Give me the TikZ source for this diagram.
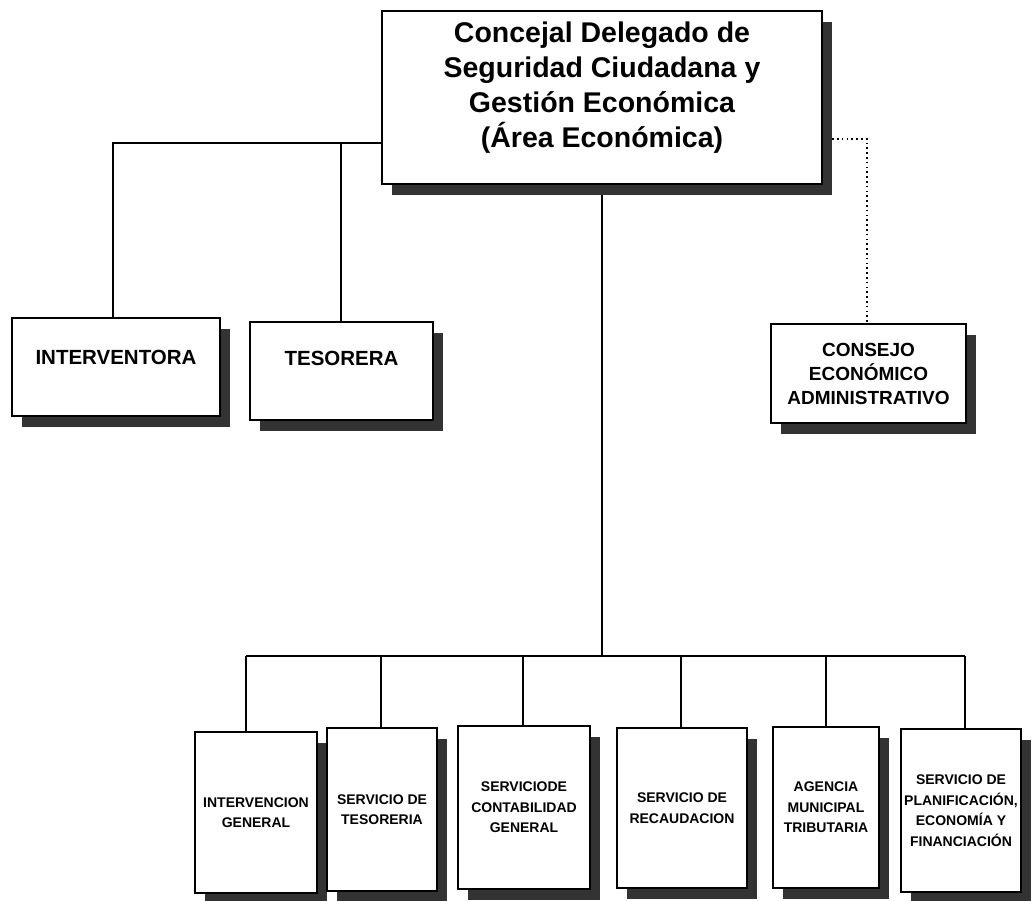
\documentclass[tikz,border=0pt]{standalone}
\usepackage{fontspec}
\setmainfont{Liberation Sans}
\usetikzlibrary{shadows,backgrounds}
\newcommand{\letra}[2]{\fontsize{#1pt}{#2pt}\selectfont\bfseries}
\tikzset{
  cargo/.style={draw,line width=1.2pt,fill=white,align=center,inner sep=2pt,
    drop shadow={shadow xshift=10pt,shadow yshift=-11pt,fill=black!80,opacity=1}},
  servicio/.style={cargo,font=\letra{14}{20.5}},
  enlace/.style={line width=1.6pt},
  punteado/.style={line width=1.6pt,dash pattern=on 1.6pt off 3.2pt}
}

\begin{document}
\begin{tikzpicture}[x=1pt,y=-1pt]
  \useasboundingbox (0,0) rectangle (1032,900);
  \begin{scope}[on background layer]
    \fill[white] (0,0) rectangle (1032,900);
  \end{scope}

  \node[cargo,minimum width=440pt,minimum height=173pt,text depth=26pt,
    font=\letra{28.5}{35}] (concejal) at (602,97.5)
    {Concejal Delegado de\\Seguridad Ciudadana y\\Gestión Económica\\(Área Económica)};
  \node[cargo,minimum width=208pt,minimum height=98pt,text depth=20pt,
    font=\letra{20.5}{24}] (interv) at (116,367) {INTERVENTORA};
  \node[cargo,minimum width=183pt,minimum height=98pt,text depth=26pt,
    font=\letra{20.5}{24}] (teso) at (341.5,371) {TESORERA};
  \node[cargo,minimum width=195pt,minimum height=99pt,
    font=\letra{19}{24}] (consejo) at (868.5,373.5)
    {CONSEJO\\ECONÓMICO\\ADMINISTRATIVO};

  \foreach \nm/\cx/\cy/\w/\h/\txt in {
      sintg/256/812.5/122/161/{INTERVENCION\\GENERAL},
      stes/382/809.5/110/163/{SERVICIO DE\\TESORERIA},
      scont/524/807.5/132/163/{SERVICIODE\\CONTABILIDAD\\GENERAL},
      srec/682/808/130/160/{SERVICIO DE\\RECAUDACION},
      amt/826/807.5/106/161/{AGENCIA\\MUNICIPAL\\TRIBUTARIA},
      splan/961/810.5/120/163/{SERVICIO DE\\PLANIFICACIÓN,\\ECONOMÍA Y\\FINANCIACIÓN}}
    \node[servicio,minimum width=\w pt,minimum height=\h pt] (\nm) at (\cx,\cy) {\txt};

  \coordinate (ramal) at (113,143);
  \coordinate (ramalb) at (341,143);
  \coordinate (codo) at (867,139);
  \foreach \nm/\jx in {sintg/246,stes/381,scont/523,srec/681,amt/826,splan/965}
    \coordinate (j\nm) at (\jx,656);

  \begin{scope}[on background layer]
    \draw[enlace] (concejal.west |- ramal) -- (ramal) -- (ramal |- interv.north);
    \draw[enlace] (ramalb) -- (ramalb |- teso.north);
    \draw[punteado] (concejal.east |- codo) -- (codo) -- (codo |- consejo.north);
    \draw[enlace] (concejal.south) -- (concejal.south |- jsintg);
    \draw[enlace] (jsintg) -- (jsplan);
    \foreach \nm in {sintg,stes,scont,srec,amt,splan}
      \draw[enlace] (j\nm) -- (j\nm |- \nm.north);
  \end{scope}
\end{tikzpicture}
\end{document}
